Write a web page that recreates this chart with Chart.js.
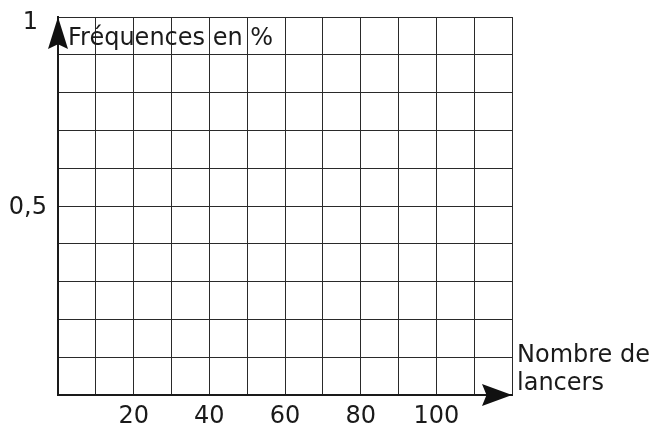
<!DOCTYPE html>
<html>
<head>
<meta charset="utf-8">
<script src="https://cdn.jsdelivr.net/npm/chart.js@4.4.0/dist/chart.umd.min.js"></script>
<style>
  html, body { margin: 0; padding: 0; background: #fff; }
</style>
</head>
<body>
<canvas id="chart" width="651" height="428"></canvas>
<script>
// axis data
const xMax = 120;
const xStep = 10;
const yMax = 1;
const yStep = 0.1;
const xTickValues = [20, 40, 60, 80, 100];
const yTickValues = [0.5, 1];
const yTickLabels = ['0,5', '1'];
const yTitle = 'Fréquences en %';
const xTitle = ['Nombre de', 'lancers'];
const points = []; // empty grid, nothing plotted yet

const FONT = '24px "DejaVu Sans", sans-serif';

// arrowhead with a small notch at the back
function arrow(ctx, tx, ty, dx, dy, len, half) {
  const px = -dy, py = dx;
  ctx.beginPath();
  ctx.moveTo(tx, ty);
  ctx.lineTo(tx - dx * len + px * half, ty - dy * len + py * half);
  ctx.lineTo(tx - dx * len * 0.85, ty - dy * len * 0.85);
  ctx.lineTo(tx - dx * len - px * half, ty - dy * len - py * half);
  ctx.closePath();
  ctx.fill();
}

const decorations = {
  id: 'decorations',
  afterDraw(chart) {
    const ctx = chart.ctx;
    const x = chart.scales.x, y = chart.scales.y;
    const x0 = x.getPixelForValue(0), x1 = x.getPixelForValue(xMax);
    const y0 = y.getPixelForValue(0), y1 = y.getPixelForValue(yMax);
    ctx.save();
    ctx.fillStyle = '#111';
    arrow(ctx, x0, y1, 0, -1, 32, 10);
    arrow(ctx, x1, y0, 1, 0, 30, 11);

    ctx.font = FONT;
    ctx.fillStyle = '#1a1a1a';
    // y tick labels
    ctx.textBaseline = 'alphabetic';
    ctx.textAlign = 'right';
    ctx.fillText(yTickLabels[0], x0 - 11, y.getPixelForValue(yTickValues[0]) + 8);
    ctx.fillText(yTickLabels[1], x0 - 20, y.getPixelForValue(yTickValues[1]) + 12);
    // x tick labels
    ctx.textAlign = 'center';
    xTickValues.forEach(v => ctx.fillText(String(v), x.getPixelForValue(v), y0 + 28));
    // titles
    ctx.textAlign = 'left';
    ctx.fillText(yTitle, x0 + 10, y1 + 28);
    ctx.fillText(xTitle[0], x1 + 5, y0 - 33);
    ctx.fillText(xTitle[1], x1 + 5, y0 - 5);
    ctx.restore();
  }
};

new Chart(document.getElementById('chart'), {
  type: 'scatter',
  data: { datasets: [{ data: points, pointRadius: 0 }] },
  options: {
    responsive: false,
    animation: false,
    devicePixelRatio: 1,
    layout: { padding: { left: 58, right: 139, top: 17, bottom: 33 } },
    plugins: { legend: { display: false }, tooltip: { enabled: false } },
    scales: {
      x: {
        type: 'linear', min: 0, max: xMax,
        ticks: { display: false, stepSize: xStep },
        grid: { color: '#2a2a2a', lineWidth: 1, drawTicks: false },
        border: { color: '#1a1a1a', width: 2 }
      },
      y: {
        type: 'linear', min: 0, max: yMax,
        ticks: { display: false, stepSize: yStep },
        grid: { color: '#2a2a2a', lineWidth: 1, drawTicks: false },
        border: { color: '#1a1a1a', width: 2 }
      }
    }
  },
  plugins: [decorations]
});
</script>
</body>
</html>
